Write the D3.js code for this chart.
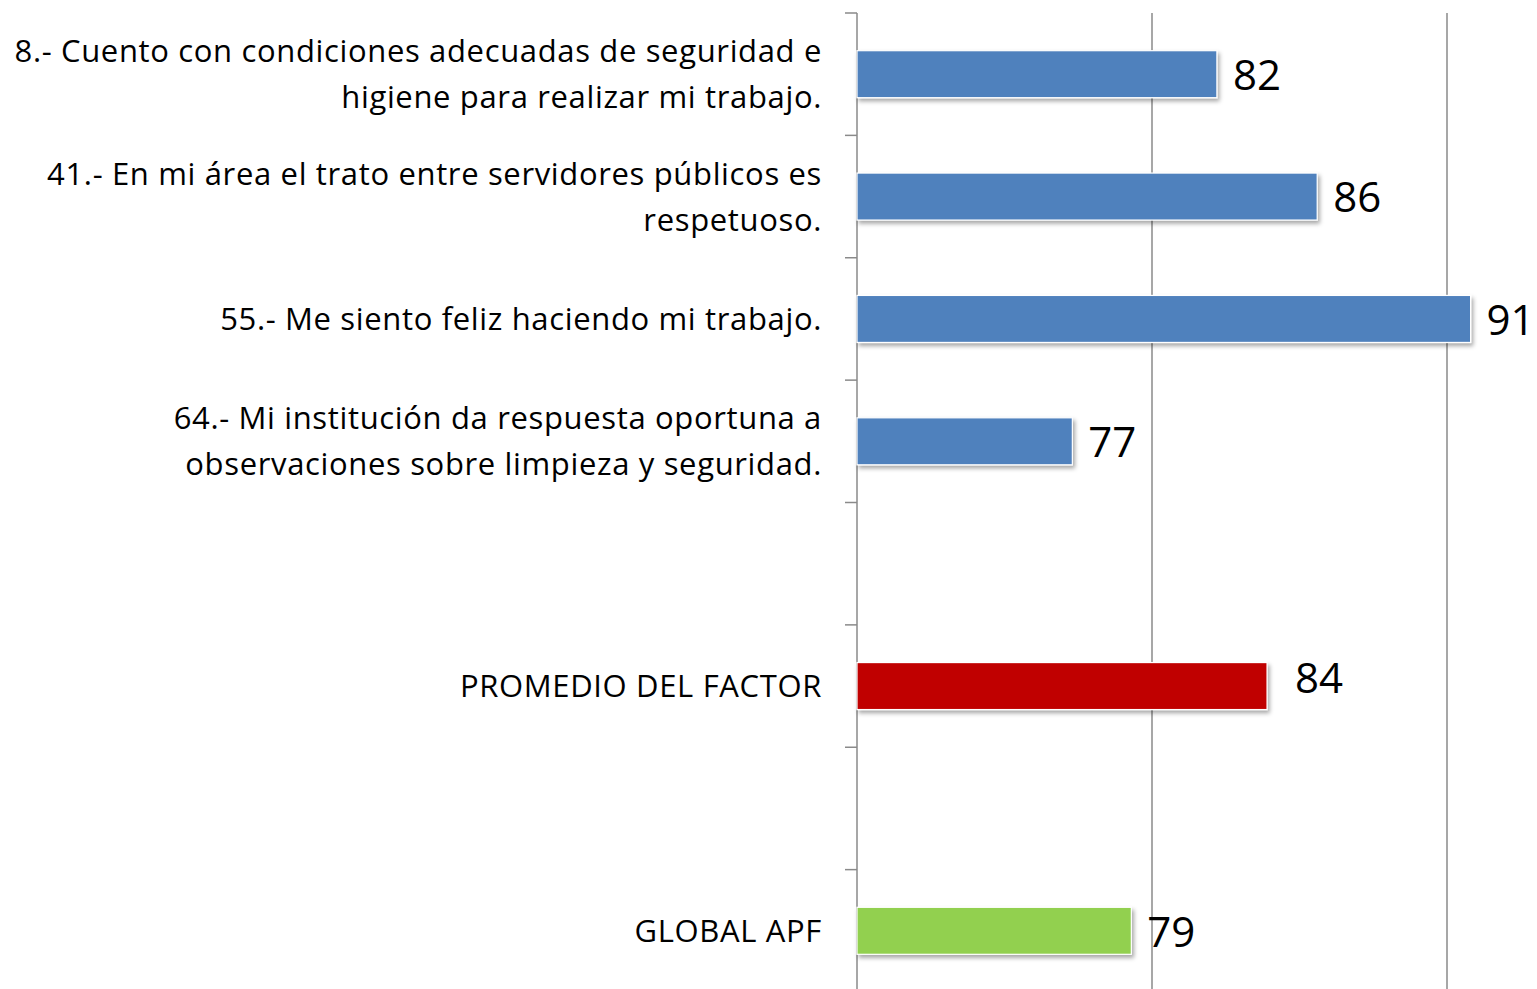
<!DOCTYPE html>
<html><head><meta charset="utf-8">
<script src="https://cdn.jsdelivr.net/npm/d3@7"></script>
<style>html,body{margin:0;padding:0;background:#fff;overflow:hidden}</style>
</head><body>
<svg id="chart" width="1537" height="989"></svg>
<script>
// ---- data ----
const categories = [
  "8.- Cuento con condiciones adecuadas de seguridad e\nhigiene para realizar mi trabajo.",
  "41.- En mi área el trato entre servidores públicos es\nrespetuoso.",
  "55.- Me siento feliz haciendo mi trabajo.",
  "64.- Mi institución da respuesta oportuna a\nobservaciones sobre limpieza y seguridad.",
  "",
  "PROMEDIO DEL FACTOR",
  " ",
  "GLOBAL APF"
];
const values = [82.2, 85.6, 90.8, 77.3, null, 83.9, null, 79.3];
const valueLabels = ["82", "86", "91", "77", "", "84", "", "79"];
const barColors = ["#4F81BD", "#4F81BD", "#4F81BD", "#4F81BD", null, "#C00000", null, "#92D050"];
const xDomain = [70, 100];
const gridTicks = [80, 90];

// ---- layout ----
const svg = d3.select("#chart");
const x = d3.scaleLinear().domain(xDomain).range([857, 1742]);
const y = d3.scaleBand().domain(categories).range([13, 992]).paddingInner(0.616).paddingOuter(0.308);
const step = y.step();
const FONT = "'Open Sans', 'Noto Sans', sans-serif";

const defs = svg.append("defs");
const f = defs.append("filter").attr("id","shadow").attr("x","-5%").attr("y","-30%").attr("width","115%").attr("height","180%");
f.append("feDropShadow").attr("dx",2).attr("dy",3).attr("stdDeviation",2).attr("flood-color","#000").attr("flood-opacity",0.35);

// gridlines
svg.append("g").selectAll("line").data(gridTicks).join("line")
  .attr("x1", d => x(d)).attr("x2", d => x(d))
  .attr("y1", 13).attr("y2", 992)
  .attr("stroke", "#8a8a8a").attr("stroke-width", 1.5);

// axis line
svg.append("line").attr("x1", x(xDomain[0])).attr("x2", x(xDomain[0]))
  .attr("y1", 13).attr("y2", 992).attr("stroke", "#8a8a8a").attr("stroke-width", 1.5);

// tick marks at band boundaries
const bounds = categories.map(c => y(c) + y.bandwidth()/2 - step/2);
bounds.push(bounds[bounds.length-1] + step);
svg.append("g").selectAll("line").data(bounds).join("line")
  .attr("x1", x(xDomain[0]) - 12).attr("x2", x(xDomain[0]))
  .attr("y1", d => d).attr("y2", d => d)
  .attr("stroke", "#8a8a8a").attr("stroke-width", 1.5);

// bars
const data = categories.map((c, i) => ({c, v: values[i], lab: valueLabels[i], col: barColors[i]}));
svg.append("g").selectAll("rect").data(data.filter(d => d.v != null)).join("rect")
  .attr("x", x(xDomain[0]))
  .attr("y", d => y(d.c))
  .attr("width", d => x(d.v) - x(xDomain[0]))
  .attr("height", y.bandwidth())
  .attr("fill", d => d.col)
  .attr("stroke", "#fff").attr("stroke-width", 1.2)
  .attr("filter", "url(#shadow)");

// value labels
svg.append("g").selectAll("text").data(data.filter(d => d.v != null)).join("text")
  .attr("x", d => x(d.v) + 16 + (d.c === "PROMEDIO DEL FACTOR" ? 12 : 0))
  .attr("y", d => y(d.c) + y.bandwidth()/2 + (d.c === "PROMEDIO DEL FACTOR" ? -8 : 1))
  .attr("dy", "0.35em")
  .attr("font-family", FONT).attr("font-size", 42).attr("fill", "#000")
  .text(d => d.lab);

// category labels
const lineH = 46;
const catG = svg.append("g");
data.forEach(d => {
  const lines = d.c.trim() === "" ? [] : d.c.split("\n");
  const cy = y(d.c) + y.bandwidth()/2;
  const t = catG.append("text")
    .attr("x", 822).attr("text-anchor", "end")
    .attr("font-family", FONT).attr("font-size", 31).attr("letter-spacing", "0.65px").attr("fill", "#000");
  lines.forEach((ln, k) => {
    t.append("tspan").attr("x", 822)
      .attr("y", cy + (k - (lines.length - 1)/2) * lineH)
      .attr("dy", "0.36em").text(ln);
  });
});
</script>
</body></html>
